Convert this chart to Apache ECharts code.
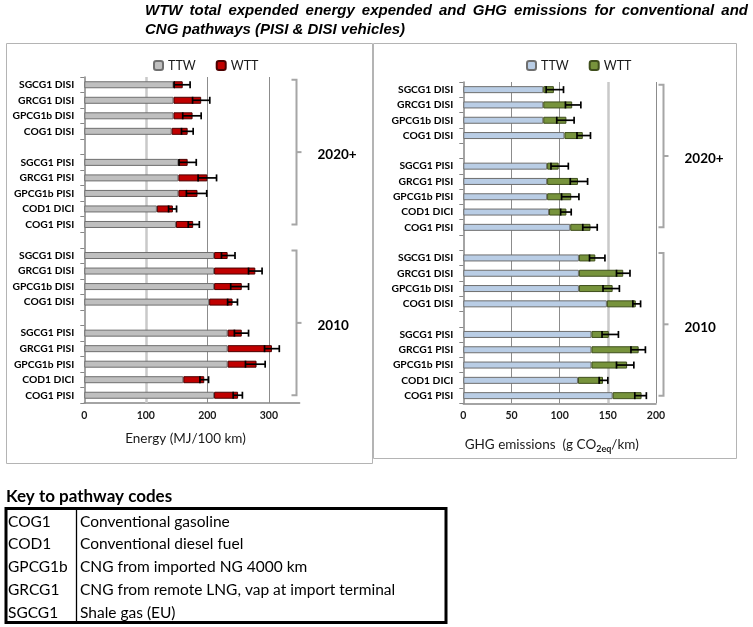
<!DOCTYPE html>
<html><head><meta charset="utf-8">
<script src="https://cdn.jsdelivr.net/npm/echarts@6/dist/echarts.min.js"></script>
<style>html,body{margin:0;padding:0;background:#fff}#c{width:753px;height:627px}</style>
</head><body><div id="c"></div>
<script>
// ---------- data ----------
const categories = ['SGCG1 DISI','GRCG1 DISI','GPCG1b DISI','COG1 DISI','',
  'SGCG1 PISI','GRCG1 PISI','GPCG1b PISI','COD1 DICI','COG1 PISI','',
  'SGCG1 DISI','GRCG1 DISI','GPCG1b DISI','COG1 DISI','',
  'SGCG1 PISI','GRCG1 PISI','GPCG1b PISI','COD1 DICI','COG1 PISI'];
const energyTTW = [145,145,145,142,null,153,153,153,118,149,null,211,211,211,203,null,233,233,233,161,211];
const energyWTT = [15,45,31,26,null,15,47,31,26,28,null,22,67,45,38,null,23,72,47,34,39];
const energyErrLow = [146,176,160,158,null,154,185,166,137,169,null,223,267,238,233,null,244,293,262,188,242];
const energyErrHigh = [172,204,190,177,null,182,215,199,150,187,null,245,289,267,249,null,267,317,294,202,257];
const ghgTTW = [83,83,83,105,null,87,87,87,89,111,null,120,120,120,149,null,133,133,133,119,155];
const ghgWTT = [11,30,24,19,null,12,32,25,18,21,null,17,46,35,30,null,18,49,37,26,30];
const ghgErrLow = [86,106,97,118,null,91,111,102,101,124,null,131,159,145,176,null,144,174,159,141,178];
const ghgErrHigh = [104,122,115,132,null,109,129,120,112,139,null,147,173,162,184,null,161,189,177,150,190];
const groupLabels = ['2020+','2010'];
const groupRanges = [[0,9],[11,20]];
const energyGrid = [100,200,300];
const ghgGrid = [50,100,150,200];
const titleLines = ['WTW total expended energy expended and GHG emissions for conventional and',
                    'CNG pathways (PISI & DISI vehicles)'];
const keyTitle = 'Key to pathway codes';
const keyCodes = ['COG1','COD1','GPCG1b','GRCG1','SGCG1'];
const keyNames = ['Conventional gasoline','Conventional diesel fuel','CNG from imported NG 4000 km',
                  'CNG from remote LNG, vap at import terminal','Shale gas (EU)'];

// ---------- helpers ----------
const FONT = 'Lato';
function errData(lo, hi){
  const out=[];
  lo.forEach((v,i)=>{ if(v!=null && hi[i]!=null) out.push([v,hi[i],i]); });
  return out;
}
function errRender(params, api){
  const a = api.coord([api.value(0), api.value(2)]);
  const b = api.coord([api.value(1), api.value(2)]);
  const h = 3.5, st = {stroke:'#000', lineWidth:1.7};
  return {type:'group', children:[
    {type:'line', shape:{x1:a[0],y1:a[1],x2:b[0],y2:b[1]}, style:st},
    {type:'line', shape:{x1:a[0],y1:a[1]-h,x2:a[0],y2:a[1]+h}, style:st},
    {type:'line', shape:{x1:b[0],y1:b[1]-h,x2:b[0],y2:b[1]+h}, style:st}
  ]};
}
function gridLines(vals, light){
  return vals.map(v=>({xAxis:v, lineStyle: v===light ? {color:'#c9c9c9', width:2.5, type:'solid'} : {color:'#8c8c8c', width:1, type:'solid'}}));
}
const yAxisCommon = {
  type:'category', inverse:true, data:categories,
  axisLine:{show:true, lineStyle:{color:'#868686', width:1.5}},
  axisTick:{show:true, length:4, interval:0, lineStyle:{color:'#868686'}},
  axisLabel:{fontFamily:FONT, fontWeight:'bold', fontSize:10.3, color:'#000', margin:10, interval:0},
  splitLine:{show:false}
};
const xAxisCommon = {
  type:'value', min:0,
  axisLine:{show:true, onZero:false, lineStyle:{color:'#868686', width:1.5}},
  axisTick:{show:false}, splitLine:{show:false},
  axisLabel:{fontFamily:FONT, fontWeight:'bold', fontSize:10.5, color:'#1a1a1a', margin:7, showMaxLabel:false}
};

const chart = echarts.init(document.getElementById('c'), null, {renderer:'canvas'});
const option = {
  animation:false,
  textStyle:{fontFamily:FONT},
  grid:[
    {left:84.3, top:77, width:215.3, height:326},
    {left:463.3, top:82, width:192.7, height:321.3}
  ],
  xAxis:[
    Object.assign({}, xAxisCommon, {gridIndex:0, max:350, interval:100}),
    Object.assign({}, xAxisCommon, {gridIndex:1, max:200, interval:50,
      axisLabel:Object.assign({}, xAxisCommon.axisLabel, {showMaxLabel:true})})
  ],
  yAxis:[
    Object.assign({}, yAxisCommon, {gridIndex:0}),
    Object.assign({}, yAxisCommon, {gridIndex:1})
  ],
  legend:[
    {data:['TTW','WTT'], left:148, top:54, itemWidth:9, itemHeight:9, itemGap:20,
     textStyle:{fontFamily:FONT, fontSize:12.5, color:'#1a1a1a'}, selectedMode:false},
    {data:['TTW ','WTT '], left:521, top:54, itemWidth:9, itemHeight:9, itemGap:20,
     formatter:n=>n.trim(), textStyle:{fontFamily:FONT, fontSize:12.5, color:'#1a1a1a'}, selectedMode:false}
  ],
  series:[
    {name:'TTW', type:'bar', xAxisIndex:0, yAxisIndex:0, stack:'e', barWidth:7, z:2,
     itemStyle:{color:'#bfbfbf', borderColor:'#6f6f6f', borderWidth:1}, data:energyTTW,
     markLine:{silent:true, z:1, symbol:'none', label:{show:false}, data:gridLines(energyGrid,100)}},
    {name:'WTT', type:'bar', xAxisIndex:0, yAxisIndex:0, stack:'e', barWidth:7, z:2,
     itemStyle:{color:'#c00000', borderColor:'#4a0000', borderWidth:1}, data:energyWTT},
    {name:'errE', type:'custom', xAxisIndex:0, yAxisIndex:0, z:3, renderItem:errRender,
     encode:{x:[0,1], y:2}, data:errData(energyErrLow, energyErrHigh)},
    {name:'TTW ', type:'bar', xAxisIndex:1, yAxisIndex:1, stack:'g', barWidth:7, z:2,
     itemStyle:{color:'#b9cde5', borderColor:'#6f6f6f', borderWidth:1}, data:ghgTTW,
     markLine:{silent:true, z:1, symbol:'none', label:{show:false}, data:gridLines(ghgGrid,150)}},
    {name:'WTT ', type:'bar', xAxisIndex:1, yAxisIndex:1, stack:'g', barWidth:7, z:2,
     itemStyle:{color:'#77933c', borderColor:'#3f4f1c', borderWidth:1}, data:ghgWTT},
    {name:'errG', type:'custom', xAxisIndex:1, yAxisIndex:1, z:3, renderItem:errRender,
     encode:{x:[0,1], y:2}, data:errData(ghgErrLow, ghgErrHigh)}
  ]
};
chart.setOption(option);

// ---------- decorations ----------
const g = [];
// panels
g.push({type:'rect', shape:{x:6.5, y:43.5, width:366, height:420}, style:{fill:null, stroke:'#b4b4b4', lineWidth:1}, z:-1});
g.push({type:'rect', shape:{x:373.5, y:43.5, width:363, height:415}, style:{fill:null, stroke:'#b4b4b4', lineWidth:1}, z:-1});
// title (justified first line)
const cv = document.createElement('canvas').getContext('2d');
const tFont = 'italic bold 15px "Liberation Sans"';
cv.font = tFont;
function justify(line, x0, x1, y, doJustify){
  const words = line.split(' ');
  const ws = words.map(w=>cv.measureText(w).width);
  const tot = ws.reduce((a,b)=>a+b,0);
  const gap = doJustify ? (x1-x0-tot)/(words.length-1) : cv.measureText(' ').width;
  let x = x0;
  words.forEach((w,i)=>{
    g.push({type:'text', x:x, y:y, style:{text:w, font:tFont, fill:'#000', verticalAlign:'middle', align:'left'}});
    x += ws[i] + gap;
  });
}
justify(titleLines[0], 145, 748, 11, true);
justify(titleLines[1], 145, 408, 30, false);
// axis titles
g.push({type:'text', x:185.5, y:439, style:{text:'Energy (MJ/100 km)', fontFamily:FONT, fontSize:13.5, fill:'#1a1a1a', align:'center', verticalAlign:'middle'}});
g.push({type:'text', x:551.7, y:445, style:{
  text:'{a|GHG emissions  (g CO}{b|2eq}{a|/km)}', align:'center', verticalAlign:'middle',
  rich:{a:{fontFamily:FONT, fontSize:13.5, fill:'#1a1a1a', lineHeight:18, verticalAlign:'middle'},
        b:{fontFamily:FONT, fontSize:9, fontWeight:'bold', fill:'#1a1a1a', lineHeight:18, verticalAlign:'bottom'}}}});
// brackets
function bracket(gridIdx, bx){
  groupRanges.forEach((r,k)=>{
    const yTop = chart.convertToPixel({yAxisIndex:gridIdx}, r[0]) - 5;
    const yBot = chart.convertToPixel({yAxisIndex:gridIdx}, r[1]);
    const mid = (yTop+yBot)/2;
    g.push({type:'polyline', shape:{points:[[bx-5,yTop],[bx,yTop],[bx,yBot],[bx-5,yBot]]}, style:{stroke:'#a6a6a6', lineWidth:2, fill:null}});
    g.push({type:'line', shape:{x1:bx, y1:mid, x2:bx+5, y2:mid}, style:{stroke:'#a6a6a6', lineWidth:2}});
    g.push({type:'text', x:bx+21, y:mid+3, style:{text:groupLabels[k], fontFamily:FONT, fontWeight:'bold', fontSize:13.5, fill:'#000', verticalAlign:'middle'}});
  });
}
bracket(0, 296.5);
bracket(1, 663.5);
// key table
g.push({type:'text', x:6, y:497, style:{text:keyTitle, fontFamily:FONT, fontWeight:'bold', fontSize:17, fill:'#000', verticalAlign:'middle'}});
g.push({type:'rect', shape:{x:6, y:508.5, width:440, height:114}, style:{fill:null, stroke:'#000', lineWidth:3}});
g.push({type:'line', shape:{x1:76.5, y1:509, x2:76.5, y2:622}, style:{stroke:'#000', lineWidth:1.3}});
keyCodes.forEach((c,i)=>{
  const y = 521.5 + i*22.9;
  g.push({type:'text', x:8, y:y, style:{text:c, fontFamily:FONT, fontSize:15.5, fill:'#000', verticalAlign:'middle'}});
  g.push({type:'text', x:80, y:y, style:{text:keyNames[i], fontFamily:FONT, fontSize:15.5, fill:'#000', verticalAlign:'middle'}});
});
chart.setOption({graphic:{elements:g}});
</script></body></html>
